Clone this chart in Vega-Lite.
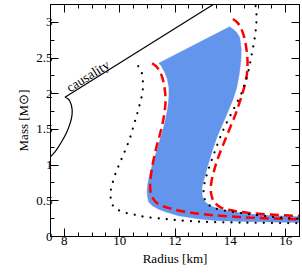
{
  "$schema": "https://vega.github.io/schema/vega-lite/v6.json",
  "width": 249,
  "height": 232,
  "autosize": {"type": "none"},
  "padding": {"left": 50, "top": 4, "right": 3, "bottom": 42},
  "background": "white",
  "config": {
    "view": {"stroke": "black", "strokeWidth": 1},
    "font": "Liberation Serif"
  },
  "datasets": {
    "band": [
      {"i":1,"R":11.43,"M":2.42},{"i":2,"R":13.99,"M":2.93},{"i":3,"R":14.11,"M":2.90},{"i":4,"R":14.25,"M":2.85},{"i":5,"R":14.36,"M":2.78},{"i":6,"R":14.41,"M":2.62},{"i":7,"R":14.4,"M":2.46},{"i":8,"R":14.34,"M":2.27},{"i":9,"R":14.25,"M":2.08},{"i":10,"R":14.12,"M":1.92},{"i":11,"R":13.95,"M":1.76},{"i":12,"R":13.74,"M":1.57},{"i":13,"R":13.55,"M":1.40},{"i":14,"R":13.37,"M":1.20},{"i":15,"R":13.2,"M":0.98},{"i":16,"R":13.07,"M":0.80},{"i":17,"R":12.99,"M":0.68},{"i":18,"R":13.0,"M":0.56},{"i":19,"R":13.1,"M":0.48},{"i":20,"R":13.3,"M":0.42},{"i":21,"R":13.6,"M":0.38},{"i":22,"R":14.0,"M":0.345},{"i":23,"R":14.64,"M":0.31},{"i":24,"R":15.5,"M":0.285},{"i":25,"R":16.6,"M":0.27},{"i":26,"R":16.6,"M":0.19},{"i":27,"R":15.0,"M":0.2},{"i":28,"R":13.57,"M":0.215},{"i":29,"R":12.85,"M":0.24},{"i":30,"R":12.14,"M":0.285},{"i":31,"R":11.7,"M":0.335},{"i":32,"R":11.43,"M":0.375},{"i":33,"R":11.2,"M":0.425},{"i":34,"R":11.07,"M":0.475},{"i":35,"R":11.02,"M":0.56},{"i":36,"R":11.01,"M":0.64},{"i":37,"R":11.04,"M":0.74},{"i":38,"R":11.1,"M":0.85},{"i":39,"R":11.18,"M":0.97},{"i":40,"R":11.27,"M":1.09},{"i":41,"R":11.38,"M":1.22},{"i":42,"R":11.47,"M":1.34},{"i":43,"R":11.58,"M":1.48},{"i":44,"R":11.68,"M":1.64},{"i":45,"R":11.76,"M":1.80},{"i":46,"R":11.8,"M":1.95},{"i":47,"R":11.8,"M":2.08},{"i":48,"R":11.74,"M":2.2},{"i":49,"R":11.64,"M":2.3},{"i":50,"R":11.52,"M":2.38}
    ],
    "red_left": [
      {"i":1,"R":11.19,"M":2.42},{"i":2,"R":11.33,"M":2.38},{"i":3,"R":11.46,"M":2.31},{"i":4,"R":11.56,"M":2.22},{"i":5,"R":11.63,"M":2.1},{"i":6,"R":11.67,"M":1.97},{"i":7,"R":11.67,"M":1.84},{"i":8,"R":11.62,"M":1.68},{"i":9,"R":11.54,"M":1.53},{"i":10,"R":11.45,"M":1.39},{"i":11,"R":11.35,"M":1.25},{"i":12,"R":11.26,"M":1.1},{"i":13,"R":11.19,"M":0.96},{"i":14,"R":11.14,"M":0.82},{"i":15,"R":11.12,"M":0.70},{"i":16,"R":11.15,"M":0.59},{"i":17,"R":11.27,"M":0.5},{"i":18,"R":11.45,"M":0.44},{"i":19,"R":11.9,"M":0.38},{"i":20,"R":12.6,"M":0.325},{"i":21,"R":13.45,"M":0.29},{"i":22,"R":14.6,"M":0.26},{"i":23,"R":15.5,"M":0.245},{"i":24,"R":16.6,"M":0.235}
    ],
    "red_right": [
      {"i":1,"R":14.11,"M":3.04},{"i":2,"R":14.25,"M":3.0},{"i":3,"R":14.38,"M":2.93},{"i":4,"R":14.5,"M":2.81},{"i":5,"R":14.6,"M":2.62},{"i":6,"R":14.64,"M":2.42},{"i":7,"R":14.6,"M":2.22},{"i":8,"R":14.48,"M":2.03},{"i":9,"R":14.35,"M":1.87},{"i":10,"R":14.18,"M":1.68},{"i":11,"R":13.97,"M":1.48},{"i":12,"R":13.76,"M":1.28},{"i":13,"R":13.56,"M":1.08},{"i":14,"R":13.42,"M":0.9},{"i":15,"R":13.32,"M":0.72},{"i":16,"R":13.33,"M":0.58},{"i":17,"R":13.43,"M":0.48},{"i":18,"R":13.65,"M":0.405},{"i":19,"R":14.05,"M":0.36},{"i":20,"R":14.64,"M":0.325},{"i":21,"R":15.5,"M":0.3},{"i":22,"R":16.6,"M":0.28}
    ],
    "dot_left": [
      {"i":1,"R":10.69,"M":2.38},{"i":2,"R":10.8,"M":2.31},{"i":3,"R":10.85,"M":2.2},{"i":4,"R":10.86,"M":2.08},{"i":5,"R":10.81,"M":1.95},{"i":6,"R":10.72,"M":1.81},{"i":7,"R":10.61,"M":1.66},{"i":8,"R":10.49,"M":1.5},{"i":9,"R":10.37,"M":1.35},{"i":10,"R":10.25,"M":1.23},{"i":11,"R":10.13,"M":1.12},{"i":12,"R":10.01,"M":1.01},{"i":13,"R":9.89,"M":0.9},{"i":14,"R":9.79,"M":0.78},{"i":15,"R":9.71,"M":0.67},{"i":16,"R":9.69,"M":0.56},{"i":17,"R":9.74,"M":0.45},{"i":18,"R":9.9,"M":0.38},{"i":19,"R":10.2,"M":0.33},{"i":20,"R":10.6,"M":0.295},{"i":21,"R":10.9,"M":0.27},{"i":22,"R":11.5,"M":0.245},{"i":23,"R":12.1,"M":0.222},{"i":24,"R":13.0,"M":0.2},{"i":25,"R":14.0,"M":0.19},{"i":26,"R":15.0,"M":0.185},{"i":27,"R":16.6,"M":0.18}
    ],
    "dot_right": [
      {"i":1,"R":14.93,"M":3.22},{"i":2,"R":14.97,"M":3.07},{"i":3,"R":14.95,"M":2.95},{"i":4,"R":14.92,"M":2.83},{"i":5,"R":14.87,"M":2.71},{"i":6,"R":14.82,"M":2.6},{"i":7,"R":14.76,"M":2.48},{"i":8,"R":14.7,"M":2.36},{"i":9,"R":14.62,"M":2.24},{"i":10,"R":14.53,"M":2.12},{"i":11,"R":14.42,"M":2.0},{"i":12,"R":14.27,"M":1.88},{"i":13,"R":14.1,"M":1.75},{"i":14,"R":13.9,"M":1.6},{"i":15,"R":13.7,"M":1.43},{"i":16,"R":13.52,"M":1.25},{"i":17,"R":13.35,"M":1.07},{"i":18,"R":13.2,"M":0.9},{"i":19,"R":13.09,"M":0.75},{"i":20,"R":13.05,"M":0.63},{"i":21,"R":13.09,"M":0.52},{"i":22,"R":13.2,"M":0.45},{"i":23,"R":13.45,"M":0.39},{"i":24,"R":13.84,"M":0.355},{"i":25,"R":14.44,"M":0.32},{"i":26,"R":15.04,"M":0.29},{"i":27,"R":15.63,"M":0.265},{"i":28,"R":16.6,"M":0.24}
    ],
    "caus_line": [
      {"i":1,"R":8.04,"M":1.944},{"i":2,"R":13.43,"M":3.25}
    ],
    "caus_curve": [
      {"i":1,"R":8.04,"M":1.944},{"i":2,"R":8.16,"M":1.92},{"i":3,"R":8.25,"M":1.86},{"i":4,"R":8.3,"M":1.77},{"i":5,"R":8.29,"M":1.68},{"i":6,"R":8.22,"M":1.57},{"i":7,"R":8.1,"M":1.45},{"i":8,"R":7.92,"M":1.32},{"i":9,"R":7.72,"M":1.2},{"i":10,"R":7.5,"M":1.1},{"i":11,"R":7.4,"M":1.05}
    ],
    "label": [
      {"R":8.88,"M":2.235,"text":"causality"}
    ]
  },
  "layer": [
    {
      "data": {"name": "band"},
      "mark": {"type": "line", "fill": "#6495ED", "stroke": "#6495ED", "strokeWidth": 0.5, "clip": true},
      "encoding": {
        "x": {"field": "R", "type": "quantitative", "scale": {"domain": [7.5, 16.5], "nice": false, "zero": false},
          "axis": {"orient": "bottom", "values": [8,8.5,9,9.5,10,10.5,11,11.5,12,12.5,13,13.5,14,14.5,15,15.5,16], "format": "~g",
            "grid": false, "domainColor": "black", "tickColor": "black", "labelColor": "black", "titleColor": "black",
            "labelFont": "Liberation Serif", "titleFont": "Liberation Serif", "labelFontSize": 13, "titleFontSize": 13, "titleFontWeight": "normal",
            "labelOverlap": false, "labelFlush": false,
            "labelExpr": "datum.value % 2 === 0 ? datum.label : ''",
            "tickSize": {"condition": {"test": "datum.value % 2 === 0", "value": -8}, "value": -4},
            "labelPadding": 6, "title": "Radius [km]", "titlePadding": 1}},
        "y": {"field": "M", "type": "quantitative", "scale": {"domain": [0, 3.25], "nice": false, "zero": false},
          "axis": {"orient": "left", "values": [0,0.25,0.5,0.75,1,1.25,1.5,1.75,2,2.25,2.5,2.75,3], "format": "~g",
            "grid": false, "domainColor": "black", "tickColor": "black", "labelColor": "black", "titleColor": "black",
            "labelFont": "Liberation Serif", "titleFont": "Liberation Serif", "labelFontSize": 13, "titleFontSize": 13, "titleFontWeight": "normal",
            "labelOverlap": false, "labelFlush": false,
            "labelExpr": "datum.value % 0.5 === 0 ? datum.label : ''",
            "tickSize": {"condition": {"test": "datum.value % 0.5 === 0", "value": -8}, "value": -4},
            "labelPadding": 6, "title": "Mass [M⊙]", "titlePadding": 5}},
        "order": {"field": "i", "type": "quantitative"}
      }
    },
    {
      "data": {"name": "caus_line"},
      "mark": {"type": "line", "color": "black", "strokeWidth": 1.2, "clip": true},
      "encoding": {
        "x": {"field": "R", "type": "quantitative",
          "axis": {"orient": "top", "values": [8,8.5,9,9.5,10,10.5,11,11.5,12,12.5,13,13.5,14,14.5,15,15.5,16], "labels": false, "title": null, "grid": false, "domainColor": "black", "tickColor": "black",
            "tickSize": {"condition": {"test": "datum.value % 2 === 0", "value": -8}, "value": -4}}},
        "y": {"field": "M", "type": "quantitative",
          "axis": {"orient": "right", "values": [0,0.25,0.5,0.75,1,1.25,1.5,1.75,2,2.25,2.5,2.75,3], "labels": false, "title": null, "grid": false, "domainColor": "black", "tickColor": "black",
            "tickSize": {"condition": {"test": "datum.value % 0.5 === 0", "value": -8}, "value": -4}}},
        "order": {"field": "i", "type": "quantitative"}
      }
    },
    {
      "data": {"name": "caus_curve"},
      "mark": {"type": "line", "color": "black", "strokeWidth": 1.2, "clip": true, "interpolate": "catmull-rom"},
      "encoding": {
        "x": {"field": "R", "type": "quantitative", "axis": null},
        "y": {"field": "M", "type": "quantitative", "axis": null},
        "order": {"field": "i", "type": "quantitative"}
      }
    },
    {
      "data": {"name": "red_left"},
      "mark": {"type": "line", "color": "#ff0000", "strokeWidth": 2.5, "strokeDash": [9, 5], "clip": true, "interpolate": "catmull-rom"},
      "encoding": {
        "x": {"field": "R", "type": "quantitative", "axis": null},
        "y": {"field": "M", "type": "quantitative", "axis": null},
        "order": {"field": "i", "type": "quantitative"}
      }
    },
    {
      "data": {"name": "red_right"},
      "mark": {"type": "line", "color": "#ff0000", "strokeWidth": 2.5, "strokeDash": [9, 5], "clip": true, "interpolate": "catmull-rom"},
      "encoding": {
        "x": {"field": "R", "type": "quantitative", "axis": null},
        "y": {"field": "M", "type": "quantitative", "axis": null},
        "order": {"field": "i", "type": "quantitative"}
      }
    },
    {
      "data": {"name": "dot_left"},
      "mark": {"type": "line", "color": "black", "strokeWidth": 2.2, "strokeDash": [0.1, 8], "strokeCap": "round", "clip": true, "interpolate": "catmull-rom"},
      "encoding": {
        "x": {"field": "R", "type": "quantitative", "axis": null},
        "y": {"field": "M", "type": "quantitative", "axis": null},
        "order": {"field": "i", "type": "quantitative"}
      }
    },
    {
      "data": {"name": "dot_right"},
      "mark": {"type": "line", "color": "black", "strokeWidth": 2.2, "strokeDash": [0.1, 8], "strokeCap": "round", "clip": true, "interpolate": "catmull-rom"},
      "encoding": {
        "x": {"field": "R", "type": "quantitative", "axis": null},
        "y": {"field": "M", "type": "quantitative", "axis": null},
        "order": {"field": "i", "type": "quantitative"}
      }
    },
    {
      "data": {"name": "label"},
      "mark": {"type": "text", "font": "Liberation Serif", "fontSize": 13.5, "angle": 328, "align": "center", "baseline": "middle", "color": "black"},
      "encoding": {
        "x": {"field": "R", "type": "quantitative", "axis": null},
        "y": {"field": "M", "type": "quantitative", "axis": null},
        "text": {"field": "text"}
      }
    }
  ]
}
